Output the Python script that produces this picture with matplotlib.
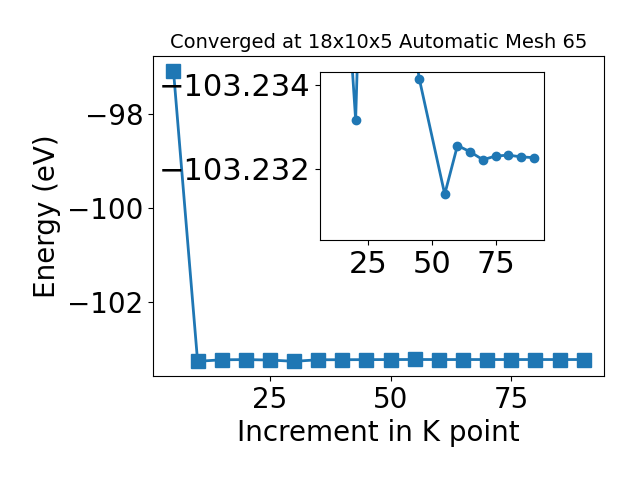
import numpy as np
import matplotlib
matplotlib.use("Agg")
import matplotlib.pyplot as plt

# increments in k point and total energies (eV)
kpoints = [5, 10, 15, 20, 25, 30, 35, 40, 45, 50, 55, 60, 65, 70, 75, 80, 85, 90]
energies = [-97.08, -103.27, -103.2378, -103.23316, -103.2431, -103.27, -103.237,
            -103.2361, -103.23414, -103.2328, -103.23139, -103.23255, -103.2324,
            -103.23221, -103.2323, -103.23232, -103.23228, -103.23226]

# zoomed view (no 50 point here)
inset_k = [10, 15, 20, 25, 30, 35, 40, 45, 55, 60, 65, 70, 75, 80, 85, 90]
inset_e = [-103.27, -103.2378, -103.23316, -103.2431, -103.27, -103.237,
           -103.2361, -103.23414, -103.23139, -103.23255, -103.2324,
           -103.23221, -103.2323, -103.23232, -103.23228, -103.23226]

title = "Converged at 18x10x5 Automatic Mesh 65"

fig = plt.figure(figsize=(6.4, 4.8), dpi=100)
ax = fig.add_subplot(111)
fig.subplots_adjust(left=0.239, right=0.944, top=0.883, bottom=0.217)

ax.plot(kpoints, energies, "s-", markersize=10, linewidth=2)
ax.set_xticks([25, 50, 75])
ax.set_xlabel("Increment in K point", fontsize=20)
ax.set_ylabel("Energy (eV)", fontsize=20)
ax.set_title(title, fontsize=14)
ax.tick_params(labelsize=20)

ins = fig.add_axes([0.5, 0.5, 0.35, 0.35])
ins.plot(inset_k, inset_e, "o-", linewidth=2)
ins.set_ylim(-103.2303, -103.2343)
ins.set_yticks([-103.234, -103.232])
ins.set_xticks([25, 50, 75])
ins.ticklabel_format(axis="y", useOffset=False)
ins.tick_params(labelsize=22)

fig.savefig("out.png")
